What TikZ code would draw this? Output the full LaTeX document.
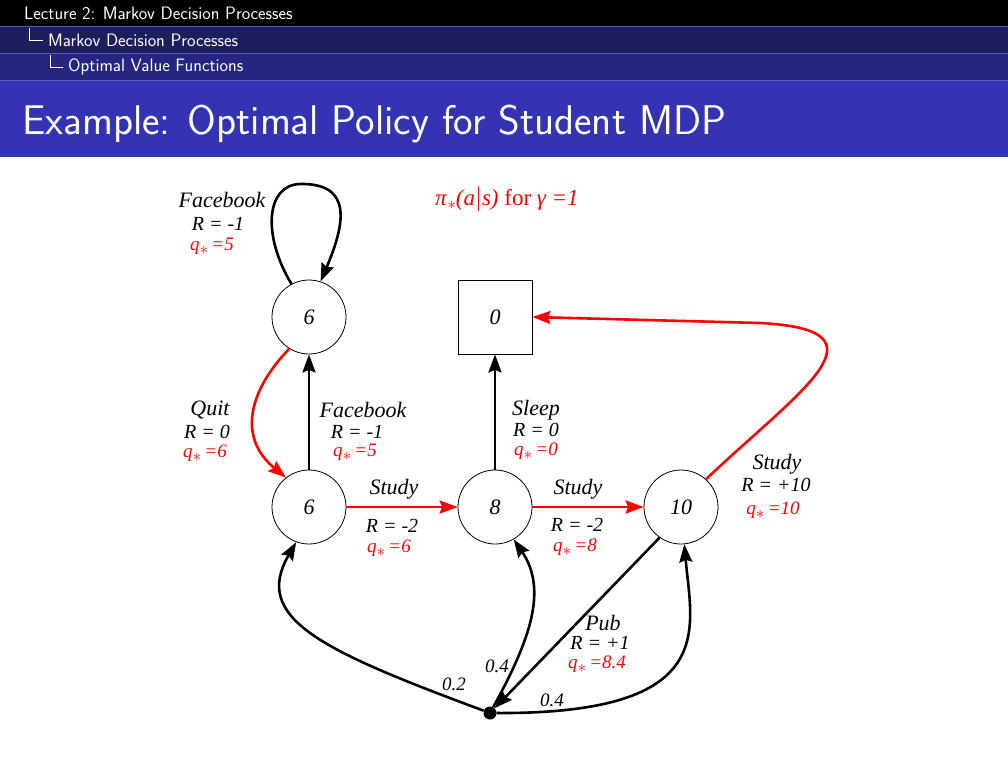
\documentclass[tikz,border=0pt]{standalone}
\usepackage{fontspec}
\setmainfont{Liberation Serif}
\usetikzlibrary{arrows.meta}

\definecolor{barone}{HTML}{000000}
\definecolor{bartwo}{HTML}{1E1E5E}
\definecolor{barthree}{HTML}{262680}
\definecolor{titlebar}{HTML}{3333B3}
\definecolor{barline}{HTML}{5A5AC8}

\begin{document}
\begin{tikzpicture}[
    x=1pt, y=-1pt,
    state/.style={circle, draw=black, line width=0.8pt, minimum size=74pt, inner sep=0pt, font=\fontsize{22}{23}\selectfont\itshape},
    term/.style={rectangle, draw=black, line width=0.8pt, minimum size=74pt, inner sep=0pt, font=\fontsize{22}{23}\selectfont\itshape},
    chance/.style={circle, fill=black, minimum size=13pt, inner sep=0pt},
    arrow/.style={-{Stealth[length=18pt,width=13pt,inset=2.5pt]}, line width=2.6pt, draw=black},
    best/.style={arrow, draw=red},
    act/.style={font=\fontsize{22}{23}\selectfont\itshape, inner sep=0pt},
    rew/.style={font=\fontsize{20}{21}\selectfont\itshape, inner sep=0pt},
    qval/.style={font=\fontsize{19}{20}\selectfont\itshape, text=red, inner sep=0pt},
    prob/.style={font=\fontsize{19}{20}\selectfont\itshape, inner sep=0pt},
    head/.style={font=\sffamily\fontsize{18}{19}\selectfont, text=white, anchor=west, inner sep=0pt},
]
    \useasboundingbox (0,0) rectangle (1008,756);

    % --- Header bars ---
    \fill[barone] (0,0) rectangle (1008,26);
    \fill[bartwo] (0,26) rectangle (1008,53);
    \fill[barthree] (0,53) rectangle (1008,80);
    \fill[titlebar] (0,80) rectangle (1008,157);
    \draw[barline, line width=0.6pt] (0,26.5) -- (1008,26.5) (0,53.5) -- (1008,53.5) (0,80.5) -- (1008,80.5);
    \node[head] (lecture) at (24,13) {Lecture 2: Markov Decision Processes};
    \node[head] (section) at (48,40) {Markov Decision Processes};
    \node[head] (subsec) at (68,67) {Optimal Value Functions};
    \draw[white, line width=0.8pt] (29,28) |- ([xshift=-5pt]section.west);
    \draw[white, line width=0.8pt] (50,55) |- ([xshift=-5pt]subsec.west);
    \node[font=\sffamily\fontsize{41.5}{43}\selectfont, text=white, anchor=west, inner sep=0pt] (title) at (22,124) {Example: Optimal Policy for Student MDP};

    % --- States ---
    \node[state] (fb) at (309,317) {6};
    \node[term] (sleep) at (495,317) {0};
    \node[state] (cone) at (309,507) {6};
    \node[state] (ctwo) at (495,507) {8};
    \node[state] (cthree) at (681,507) {10};
    \node[chance] (pub) at (490,713) {};

    \node[font=\fontsize{23}{24}\selectfont, text=red, inner sep=0pt] (policy) at (507,199)
        {\textit{π}\raisebox{-4pt}{\fontsize{19}{19}\selectfont$\ast$}\textit{(a}$|$\textit{s)} for \textit{γ =1}};

    % --- Arrows ---
    \draw[arrow] (fb.118) .. controls (262,235) and (266,185) .. (300,184)
        .. controls (352,183) and (346,222) .. (fb.72);
    \draw[best] (fb.238) .. controls (245,395) and (240,440) .. (cone.128);
    \draw[arrow] (cone) -- (fb);
    \draw[best] (cone) -- (ctwo);
    \draw[arrow] (ctwo) -- (sleep);
    \draw[best] (ctwo) -- (cthree);
    \draw[best] (cthree.48) .. controls (800,390) and (895,330) .. (760,323) -- (sleep.east);
    \draw[arrow] (cthree.235) -- (pub);
    \draw[arrow] (pub) .. controls (320,650) and (252,618) .. (cone.250);
    \draw[arrow] (pub) .. controls (530,640) and (548,590) .. (ctwo.300);
    \draw[arrow] (pub) .. controls (720,714) and (692,630) .. (cthree.275);

    % --- Labels ---
    \node[act] (fbloopA) at (222,200) {Facebook};
    \node[rew] (fbloopR) at (218,224) {R\hspace{0.25em}=\hspace{0.25em}-1};
    \node[qval] (fbloopQ) at (212,246) {q\raisebox{-4pt}{\fontsize{19}{19}\selectfont$\ast$}\,=5};

    \node[act] (quitA) at (210,410) {Quit};
    \node[rew] (quitR) at (207,432) {R\hspace{0.25em}=\hspace{0.25em}0};
    \node[qval] (quitQ) at (205,453) {q\raisebox{-4pt}{\fontsize{19}{19}\selectfont$\ast$}\,=6};

    \node[act] (fbA) at (363,410) {Facebook};
    \node[rew] (fbR) at (357,432) {R\hspace{0.25em}=\hspace{0.25em}-1};
    \node[qval] (fbQ) at (355,452) {q\raisebox{-4pt}{\fontsize{19}{19}\selectfont$\ast$}\,=5};

    \node[act] (studyoneA) at (394,489) {Study};
    \node[rew] (studyoneR) at (392,526) {R\hspace{0.25em}=\hspace{0.25em}-2};
    \node[qval] (studyoneQ) at (389,548) {q\raisebox{-4pt}{\fontsize{19}{19}\selectfont$\ast$}\,=6};

    \node[act] (sleepA) at (536,410) {Sleep};
    \node[rew] (sleepR) at (536,430) {R\hspace{0.25em}=\hspace{0.25em}0};
    \node[qval] (sleepQ) at (536,451) {q\raisebox{-4pt}{\fontsize{19}{19}\selectfont$\ast$}\,=0};

    \node[act] (studytwoA) at (578,489) {Study};
    \node[rew] (studytwoR) at (577,525) {R\hspace{0.25em}=\hspace{0.25em}-2};
    \node[qval] (studytwoQ) at (575,547) {q\raisebox{-4pt}{\fontsize{19}{19}\selectfont$\ast$}\,=8};

    \node[act] (studythreeA) at (777,464) {Study};
    \node[rew] (studythreeR) at (776,485) {R\hspace{0.25em}=\hspace{0.25em}+10};
    \node[qval] (studythreeQ) at (773,510) {q\raisebox{-4pt}{\fontsize{19}{19}\selectfont$\ast$}\,=10};

    \node[act] (pubA) at (603,623) {Pub};
    \node[rew] (pubR) at (600,643) {R\hspace{0.25em}=\hspace{0.25em}+1};
    \node[qval] (pubQ) at (597,664) {q\raisebox{-4pt}{\fontsize{19}{19}\selectfont$\ast$}\,=8.4};

    \node[prob] (ponea) at (454,684) {0.2};
    \node[prob] (ptwo) at (497,666) {0.4};
    \node[prob] (pthree) at (552,700) {0.4};
\end{tikzpicture}
\end{document}
